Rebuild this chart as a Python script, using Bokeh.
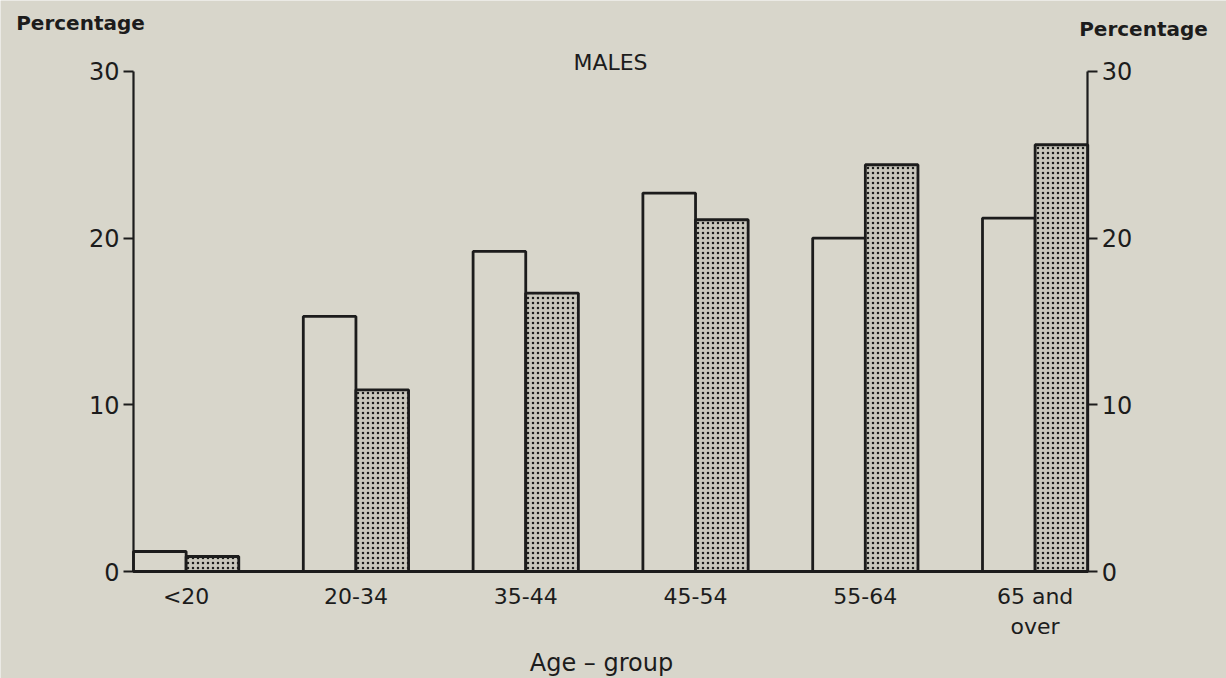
from bokeh.plotting import figure
from bokeh.models import Label, LinearAxis, FixedTicker, Range1d, ColumnDataSource
from bokeh.transform import dodge
from bokeh.embed import file_html
from bokeh.resources import INLINE

# ---- data ----
categories = ["<20", "20-34", "35-44", "45-54", "55-64", "65 and\nover"]
series_open = [1.2, 15.3, 19.2, 22.7, 20.0, 21.2]     # open (white) bars
series_dotted = [0.9, 10.9, 16.7, 21.1, 24.4, 25.6]   # dotted bars
y_ticks = [0, 10, 20, 30]

# ---- style / layout ----
W, H = 1226, 678
BG = "#d8d6cb"
DOT_BG = "#c9c7bc"
INK = "#1c1c1c"
FONT = "DejaVu Sans"
BW = 0.31                 # bar width in category units
X0_PX, XU_PX = 133, 169.8  # page px of x=-BW, px per category unit
Y0_PX, YU_PX = 571, 16.67  # page px of y=0, px per percentage point

x_lo = -BW - X0_PX / XU_PX
x_hi = x_lo + W / XU_PX
y_hi = Y0_PX / YU_PX
y_lo = y_hi - H / YU_PX

def px2x(px):
    return x_lo + px / XU_PX

def px2y(py):
    return y_hi - py / YU_PX

n = len(categories)
src = ColumnDataSource(dict(x=list(range(n)), a=series_open, b=series_dotted))

p = figure(width=W, height=H, min_border=0,
           x_range=Range1d(x_lo, x_hi), y_range=Range1d(y_lo, y_hi),
           output_backend="svg", toolbar_location=None,
           background_fill_color=BG, border_fill_color=BG, outline_line_color=None,
           x_axis_location=None, y_axis_location=None)
p.grid.visible = False

p.vbar(x=dodge("x", -BW / 2, range=p.x_range), top="a", width=BW, source=src,
       fill_color=BG, line_color=INK, line_width=2.8)
p.vbar(x=dodge("x", BW / 2, range=p.x_range), top="b", width=BW, source=src,
       fill_color=DOT_BG, line_color=INK, line_width=2.8,
       hatch_pattern="dot", hatch_scale=5, hatch_weight=3, hatch_color=INK)

def style_y(ax):
    ax.ticker = FixedTicker(ticks=y_ticks)
    ax.bounds = (y_ticks[0], y_ticks[-1])
    ax.minor_tick_line_color = None
    ax.major_tick_in = 0
    ax.major_tick_out = 10
    ax.major_tick_line_width = 2
    ax.major_tick_line_color = INK
    ax.axis_line_width = 2.2
    ax.axis_line_color = INK
    ax.major_label_text_font = FONT
    ax.major_label_text_font_size = "24px"
    ax.major_label_text_color = INK
    ax.major_label_standoff = 4

ly = LinearAxis(fixed_location=-BW)
style_y(ly)
p.add_layout(ly, "left")
ry = LinearAxis(fixed_location=n - 1 + BW)
style_y(ry)
p.add_layout(ry, "right")

xa = LinearAxis(fixed_location=0)
xa.bounds = (-BW, n - 1 + BW)
xa.ticker = FixedTicker(ticks=list(range(n)))
xa.major_label_overrides = {i: c for i, c in enumerate(categories)}
xa.minor_tick_line_color = None
xa.major_tick_line_color = None
xa.major_tick_in = 0
xa.major_tick_out = 0
xa.axis_line_width = 2.8
xa.axis_line_color = INK
xa.major_label_text_font = FONT
xa.major_label_text_font_size = "22px"
xa.major_label_text_color = INK
xa.major_label_standoff = 12
p.add_layout(xa, "below")

def lab(px, py, t, size, bold=False):
    p.add_layout(Label(x=px2x(px), y=px2y(py), text=t, text_align="center", text_baseline="middle",
                       text_font=FONT, text_font_size=size, text_color=INK,
                       text_font_style="bold" if bold else "normal"))

lab(80, 22, "Percentage", "20px", True)
lab(1143, 28, "Percentage", "20px", True)
lab(610, 62, "MALES", "22px")
lab(601, 662, "Age – group", "24px")

open("out.html", "w").write(file_html(p, INLINE))
